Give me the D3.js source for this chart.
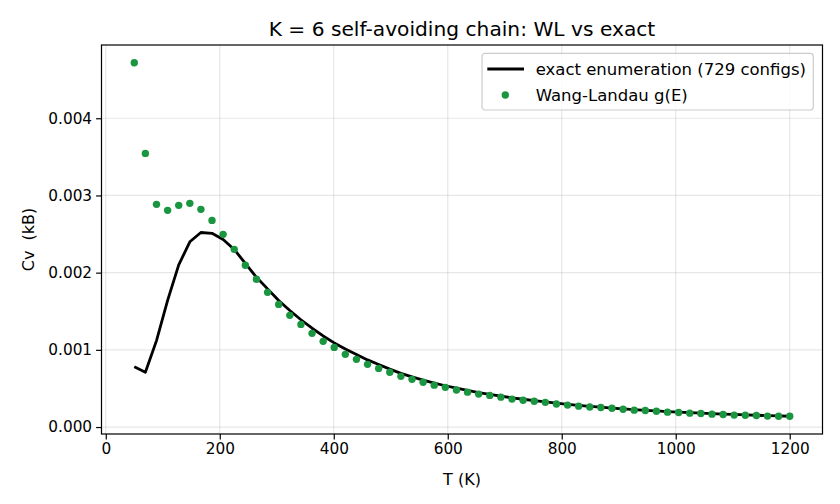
<!DOCTYPE html>
<html>
<head>
<meta charset="utf-8">
<script src="https://cdn.jsdelivr.net/npm/d3@7"></script>
<style>
  body { margin: 0; background: #fff; }
  text { font-family: "DejaVu Sans", sans-serif; fill: #000; }
</style>
</head>
<body>
<div id="chart"></div>
<script>
const svgWidth = 840,
      svgHeight = 504,
      margin = {top: 45, right: 17.5, bottom: 70, left: 101.5},
      width = svgWidth - margin.left - margin.right,
      height = svgHeight - margin.top - margin.bottom;

// temperature grid: 60 points, 50 K .. 1200 K
const temps = [50, 69.5, 89, 108.5, 128, 147.5, 166.9, 186.4, 205.9, 225.4,
  244.9, 264.4, 283.9, 303.4, 322.9, 342.4, 361.9, 381.4, 400.8, 420.3,
  439.8, 459.3, 478.8, 498.3, 517.8, 537.3, 556.8, 576.3, 595.8, 615.3,
  634.7, 654.2, 673.7, 693.2, 712.7, 732.2, 751.7, 771.2, 790.7, 810.2,
  829.7, 849.2, 868.6, 888.1, 907.6, 927.1, 946.6, 966.1, 985.6, 1005.1,
  1024.6, 1044.1, 1063.6, 1083.1, 1102.5, 1122, 1141.5, 1161, 1180.5, 1200];

// exact enumeration Cv (units of 1e-3 kB)
const cvExact = [0.78, 0.71, 1.12, 1.64, 2.10, 2.40, 2.52, 2.51, 2.43, 2.30,
  2.12, 1.94, 1.79, 1.64, 1.51, 1.39, 1.28, 1.18, 1.09, 1.01,
  0.94, 0.87, 0.81, 0.75, 0.695, 0.650, 0.608, 0.570, 0.535, 0.503,
  0.474, 0.447, 0.423, 0.400, 0.379, 0.360, 0.342, 0.325, 0.309, 0.295,
  0.281, 0.269, 0.257, 0.246, 0.236, 0.226, 0.217, 0.209, 0.201, 0.194,
  0.187, 0.180, 0.174, 0.168, 0.163, 0.158, 0.153, 0.148, 0.144, 0.140];

// Wang-Landau Cv (units of 1e-3 kB)
const cvWL = [4.72, 3.545, 2.885, 2.807, 2.872, 2.898, 2.820, 2.677, 2.496, 2.302,
  2.095, 1.915, 1.745, 1.589, 1.447, 1.330, 1.214, 1.110, 1.032, 0.942,
  0.877, 0.812, 0.760, 0.709, 0.657, 0.618, 0.580, 0.543, 0.514, 0.480,
  0.452, 0.427, 0.410, 0.387, 0.362, 0.348, 0.335, 0.320, 0.298, 0.284,
  0.271, 0.259, 0.254, 0.243, 0.231, 0.219, 0.214, 0.204, 0.193, 0.189,
  0.180, 0.176, 0.167, 0.163, 0.155, 0.152, 0.150, 0.142, 0.140, 0.139];

const xTicks = [0, 200, 400, 600, 800, 1000, 1200];
const yTicks = [0, 0.001, 0.002, 0.003, 0.004];

const exactData = temps.map((t, i) => ({t: t, cv: cvExact[i] / 1000}));
const wlData = temps.map((t, i) => ({t: t, cv: cvWL[i] / 1000}));

const green = "#1a9641";
const fs = 15.3;

// matplotlib-like 5% padding
let xMin = d3.min(temps), xMax = d3.max(temps);
let xPad = (xMax - xMin) * 0.05;
let allCv = exactData.concat(wlData).map(d => d.cv);
let yMin = d3.min(allCv), yMax = d3.max(allCv);
let yPad = (yMax - yMin) * 0.05;

let scaleX = d3.scaleLinear().domain([xMin - xPad, xMax + xPad]).range([0, width]),
    scaleY = d3.scaleLinear().domain([yMin - yPad, yMax + yPad]).range([height, 0]);

let svg = d3.select("#chart")
  .append("svg")
  .attr("width", svgWidth)
  .attr("height", svgHeight);

let g = svg.append("g")
  .attr("transform", "translate(" + margin.left + "," + margin.top + ")");

// grid
g.append("g").selectAll("line.gx")
  .data(xTicks).enter().append("line")
  .attr("x1", d => scaleX(d)).attr("x2", d => scaleX(d))
  .attr("y1", 0).attr("y2", height)
  .attr("stroke", "#b0b0b0").attr("stroke-opacity", 0.3).attr("stroke-width", 1.2);

g.append("g").selectAll("line.gy")
  .data(yTicks).enter().append("line")
  .attr("y1", d => scaleY(d)).attr("y2", d => scaleY(d))
  .attr("x1", 0).attr("x2", width)
  .attr("stroke", "#b0b0b0").attr("stroke-opacity", 0.3).attr("stroke-width", 1.2);

// exact line
let line = d3.line().x(d => scaleX(d.t)).y(d => scaleY(d.cv));
g.append("path")
  .datum(exactData)
  .attr("d", line)
  .attr("fill", "none")
  .attr("stroke", "#000")
  .attr("stroke-width", 2.8)
  .attr("stroke-linejoin", "round");

// WL points
g.append("g").selectAll("circle")
  .data(wlData).enter().append("circle")
  .attr("cx", d => scaleX(d.t))
  .attr("cy", d => scaleY(d.cv))
  .attr("r", 3.7)
  .attr("fill", green);

// axes
let xAxis = g.append("g")
  .attr("transform", "translate(0," + height + ")")
  .call(d3.axisBottom(scaleX).tickValues(xTicks).tickFormat(d3.format("d")).tickSize(5.4).tickPadding(4));

let yAxis = g.append("g")
  .call(d3.axisLeft(scaleY).tickValues(yTicks).tickFormat(d3.format(".3f")).tickSize(5.4).tickPadding(4));

[xAxis, yAxis].forEach(a => {
  a.select(".domain").remove();
  a.selectAll("line").attr("stroke", "#000").attr("stroke-width", 1.2);
  a.selectAll("text").style("font-size", fs + "px").style("font-family", "DejaVu Sans");
});

// frame
g.append("rect")
  .attr("width", width).attr("height", height)
  .attr("fill", "none").attr("stroke", "#000").attr("stroke-width", 1.2);

// title & labels
svg.append("text")
  .attr("x", margin.left + width / 2).attr("y", 36)
  .style("text-anchor", "middle").style("font-size", "20.2px")
  .text("K = 6 self-avoiding chain: WL vs exact");

svg.append("text")
  .attr("x", margin.left + width / 2).attr("y", 484.5)
  .style("text-anchor", "middle").style("font-size", "16px")
  .text("T (K)");

svg.append("text")
  .attr("transform", "translate(33.5," + (margin.top + height / 2) + ")rotate(-90)")
  .style("text-anchor", "middle").style("font-size", "16px")
  .style("white-space", "pre")
  .text("Cv  (kB)");

// legend
let legend = svg.append("g").attr("transform", "translate(482,53.3)");
legend.append("rect")
  .attr("width", 331.3).attr("height", 56.7).attr("rx", 3)
  .attr("fill", "#fff").attr("fill-opacity", 0.8)
  .attr("stroke", "#cccccc").attr("stroke-width", 1.2);
legend.append("line")
  .attr("x1", 5.3).attr("x2", 42).attr("y1", 15.7).attr("y2", 15.7)
  .attr("stroke", "#000").attr("stroke-width", 2.8);
legend.append("circle")
  .attr("cx", 23.3).attr("cy", 41.7).attr("r", 3.7).attr("fill", green);
legend.append("text")
  .attr("x", 53.7).attr("y", 15.7).attr("dy", "0.35em")
  .style("font-size", "16.5px")
  .text("exact enumeration (729 configs)");
legend.append("text")
  .attr("x", 53.7).attr("y", 41.7).attr("dy", "0.35em")
  .style("font-size", "16.5px")
  .text("Wang-Landau g(E)");
</script>
</body>
</html>
